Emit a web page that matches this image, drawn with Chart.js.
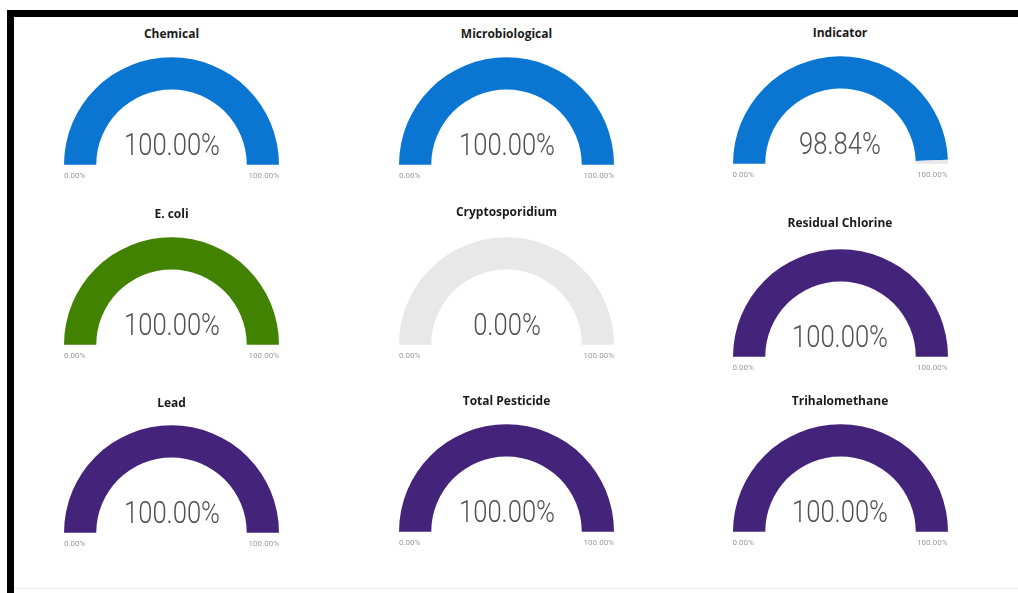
<!DOCTYPE html>
<html>
<head>
<meta charset="utf-8">
<script src="https://cdn.jsdelivr.net/npm/chart.js@4/dist/chart.umd.min.js"></script>
<style>
  html, body { margin: 0; padding: 0; background: #fff; }
  body { width: 1018px; height: 593px; position: relative; overflow: hidden; }
  .frameTop { position: absolute; left: 7px; top: 10px; width: 1011px; height: 7px; background: #000; }
  .frameLeft { position: absolute; left: 7px; top: 10px; width: 7px; height: 583px; background: #000; }
  .frameBottom { position: absolute; left: 14px; top: 588px; width: 1004px; height: 1px; background: #ececec; }
  .title { position: absolute; width: 240px; text-align: center; font-family: "Open Sans", sans-serif; font-weight: 700; font-size: 12px; color: #1a1a1a; line-height: 14px; }
  .gauge { position: absolute; }
  .value { position: absolute; width: 200px; text-align: center; font-family: Roboto, sans-serif; font-weight: 300; font-size: 32px; line-height: 32px; color: #505050; transform: scaleX(0.8); transform-origin: center; }
  .minmax { position: absolute; font-family: Roboto, sans-serif; font-size: 8px; line-height: 8px; color: #9a9a9a; }
</style>
</head>
<body>
<div class="frameTop"></div>
<div class="frameLeft"></div>
<div class="frameBottom"></div>
<script>
// ---- data ----
const titles = ["Chemical", "Microbiological", "Indicator", "E. coli", "Cryptosporidium", "Residual Chlorine", "Lead", "Total Pesticide", "Trihalomethane"];
const values = [100, 100, 98.84, 100, 0, 100, 100, 100, 100];
const minValues = [0, 0, 0, 0, 0, 0, 0, 0, 0];
const maxValues = [100, 100, 100, 100, 100, 100, 100, 100, 100];

// ---- styles ----
const blue = "#0a76d2", green = "#418200", purple = "#44237a", track = "#e8e8e8";
const colors = [blue, blue, blue, green, track, purple, purple, purple, purple];

// ---- layout (gauge centre x, baseline y of arc, title y) ----
const layout = [
  {cx: 171.5, cy: 165, ty: 34}, {cx: 506.5, cy: 165, ty: 34}, {cx: 840, cy: 164, ty: 33},
  {cx: 171.5, cy: 345, ty: 214}, {cx: 506.5, cy: 345, ty: 212}, {cx: 840, cy: 357, ty: 223},
  {cx: 171.5, cy: 533, ty: 403}, {cx: 506.5, cy: 532, ty: 401}, {cx: 840, cy: 532, ty: 401}
];
const R = 107.5;

function fmt(v) { return v.toFixed(2) + "%"; }

titles.forEach((t, i) => {
  const L = layout[i];
  const title = document.createElement("div");
  title.className = "title";
  title.textContent = t;
  title.style.left = (L.cx - 120) + "px";
  title.style.top = (L.ty - 7) + "px";
  document.body.appendChild(title);

  const canvas = document.createElement("canvas");
  canvas.className = "gauge";
  canvas.width = 215; canvas.height = 108;
  canvas.style.width = "215px"; canvas.style.height = "108px";
  canvas.style.left = (L.cx - 107.5) + "px";
  canvas.style.top = (L.cy - 108) + "px";
  document.body.appendChild(canvas);

  const v = values[i], mx = maxValues[i], mn = minValues[i];
  new Chart(canvas, {
    type: "doughnut",
    data: {
      labels: ["value", "remaining"],
      datasets: [{
        data: [v - mn, mx - v],
        backgroundColor: [colors[i], track],
        borderWidth: 0
      }]
    },
    options: {
      responsive: false,
      animation: false,
      rotation: -90,
      circumference: 180,
      cutout: "70%",
      layout: { padding: 0 },
      plugins: { legend: { display: false }, tooltip: { enabled: false }, title: { display: false } },
      events: []
    }
  });

  const val = document.createElement("div");
  val.className = "value";
  val.textContent = fmt(v);
  val.style.left = (L.cx - 100) + "px";
  val.style.top = (L.cy - 37) + "px";
  document.body.appendChild(val);

  const lo = document.createElement("div");
  lo.className = "minmax";
  lo.textContent = fmt(mn);
  lo.style.left = (L.cx - R) + "px";
  lo.style.top = (L.cy + 7) + "px";
  document.body.appendChild(lo);

  const hi = document.createElement("div");
  hi.className = "minmax";
  hi.textContent = fmt(mx);
  hi.style.left = (L.cx + R - 60) + "px";
  hi.style.width = "60px";
  hi.style.textAlign = "right";
  hi.style.top = (L.cy + 7) + "px";
  document.body.appendChild(hi);
});
</script>
</body>
</html>
